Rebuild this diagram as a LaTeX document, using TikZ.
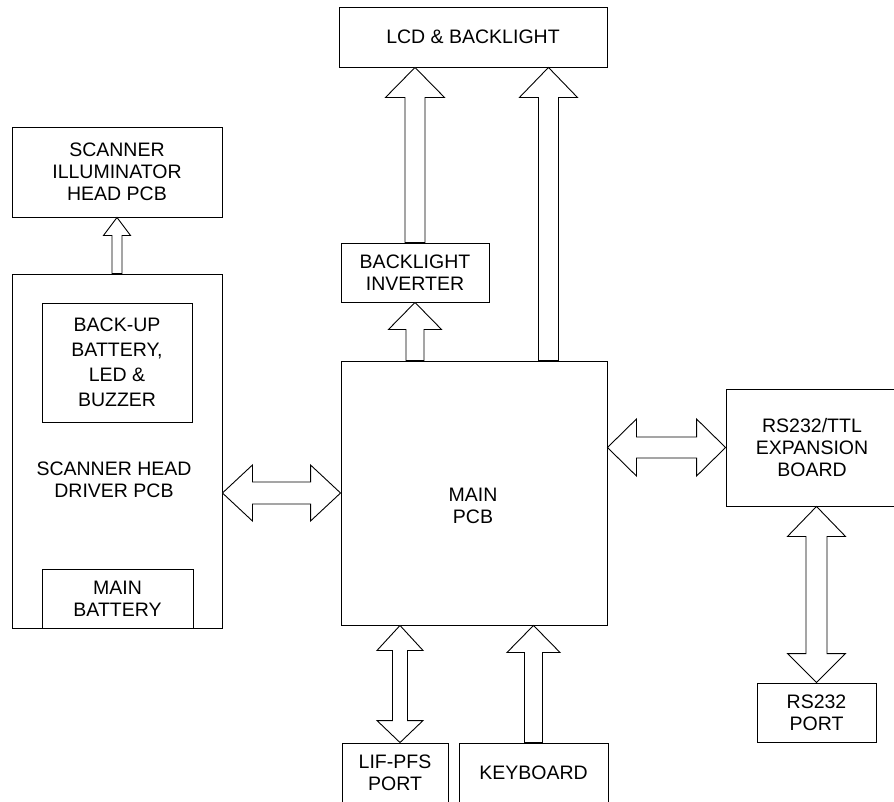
\documentclass[tikz,border=0pt]{standalone}
\usepackage{fontspec}
\setmainfont{Liberation Sans}
\usetikzlibrary{calc}
\tikzset{
  txt/.style={font=\fontsize{19.5}{22}\selectfont, align=center},
  box/.style={draw, line width=0.9pt, inner sep=0pt, txt},
  lbl/.style={inner sep=0pt, txt},
  blk/.style={draw, line width=0.9pt, fill=white, line join=miter}
}
% up arrow: #1 tail, #2 tip, #3 half head width, #4 head length, #5 half shaft
\newcommand\upArr[5]{%
  \draw[blk] (#2) -- ($(#2)+(#3,#4)$) -- ($(#2)+(#5,#4)$) -- ($(#1)+(#5,0)$)
    -- ($(#1)+(-#5,0)$) -- ($(#2)+(-#5,#4)$) -- ($(#2)+(-#3,#4)$) -- cycle;}
% vertical double arrow: #1 top tip, #2 bottom tip, #3 half head, #4 head len top, #5 half shaft, #6 head len bottom
\newcommand\vdArr[6]{%
  \draw[blk] (#1) -- ($(#1)+(#3,#4)$) -- ($(#1)+(#5,#4)$) -- ($(#2)+(#5,-#6)$)
    -- ($(#2)+(#3,-#6)$) -- (#2) -- ($(#2)+(-#3,-#6)$) -- ($(#2)+(-#5,-#6)$)
    -- ($(#1)+(-#5,#4)$) -- ($(#1)+(-#3,#4)$) -- cycle;}
% horizontal double arrow: #1 left tip, #2 right tip, #3 half head, #4 head len, #5 half shaft
\newcommand\hdArr[5]{%
  \draw[blk] (#1) -- ($(#1)+(#4,-#3)$) -- ($(#1)+(#4,-#5)$) -- ($(#2)+(-#4,-#5)$)
    -- ($(#2)+(-#4,-#3)$) -- (#2) -- ($(#2)+(-#4,#3)$) -- ($(#2)+(-#4,#5)$)
    -- ($(#1)+(#4,#5)$) -- ($(#1)+(#4,#3)$) -- cycle;}
\begin{document}
\begin{tikzpicture}[x=1pt,y=-1pt]
\useasboundingbox (0,0) rectangle (894,801);
\clip (0,0) rectangle (894,801);
\fill[white] (0,0) rectangle (894,801);

% boxes
\node[box, minimum width=268, minimum height=60] (lcd) at (473,37) {LCD \& BACKLIGHT};
\node[box, minimum width=210, minimum height=90] (illum) at (117,172) {SCANNER\\ILLUMINATOR\\HEAD PCB};
\node[box, minimum width=210, minimum height=354] (shd) at (117,451) {};
\node[lbl] (shdlabel) at (114,480) {SCANNER HEAD\\DRIVER PCB};
\node[box, minimum width=150, minimum height=119, font=\fontsize{19.5}{25}\selectfont] (backup) at (117,362.5) {BACK-UP\\BATTERY,\\LED \&\\BUZZER};
\node[box, minimum width=151, minimum height=59] (mbat) at (117.5,598.5) {MAIN\\BATTERY};
\node[box, minimum width=148, minimum height=59] (inv) at (415,272.5) {BACKLIGHT\\INVERTER};
\node[box, minimum width=266, minimum height=264] (main) at (474,493) {};
\node[lbl] (mainlabel) at (473,506) {MAIN\\PCB};
\node[box, minimum width=172, minimum height=117] (rs) at (812,447.5) {RS232/TTL\\EXPANSION\\BOARD};
\node[box, minimum width=119, minimum height=59] (port) at (816.5,712.5) {RS232\\PORT};
\node[box, minimum width=106, minimum height=59] (lif) at (395,772.5) {LIF-PFS\\PORT};
\node[box, minimum width=149, minimum height=59] (kbd) at (533.5,772.5) {KEYBOARD};

% connector end points
\coordinate (a1tail) at (illum.south |- shd.north);
\coordinate (a2tip) at (inv.north |- lcd.south);
\coordinate (a3tail) at ($(main.north east)+(-59,0)$);
\coordinate (a3tip) at (a3tail |- lcd.south);
\coordinate (a4tail) at (inv.south |- main.north);
\coordinate (a5l) at (shd.east |- main.west);
\coordinate (a6l) at (main.east |- rs.west);
\coordinate (a7t) at (port.north |- rs.south);
\coordinate (a8b) at ($(lif.north)+(5,0)$);
\coordinate (a8t) at (a8b |- main.south);
\coordinate (a9t) at (kbd.north |- main.south);

% block arrows
\upArr{a1tail}{illum.south}{13.5}{18}{5}
\upArr{inv.north}{a2tip}{29.5}{30}{10}
\upArr{a3tail}{a3tip}{29}{30}{10}
\upArr{a4tail}{inv.south}{26.5}{27}{9}
\hdArr{a5l}{main.west}{28}{30}{11}
\hdArr{a6l}{rs.west}{28.5}{29}{10.5}
\vdArr{a7t}{port.north}{29}{30}{10.5}{29}
\vdArr{a8t}{a8b}{23}{25}{7.5}{22}
\upArr{kbd.north}{a9t}{26.5}{27}{9}
\end{tikzpicture}
\end{document}
